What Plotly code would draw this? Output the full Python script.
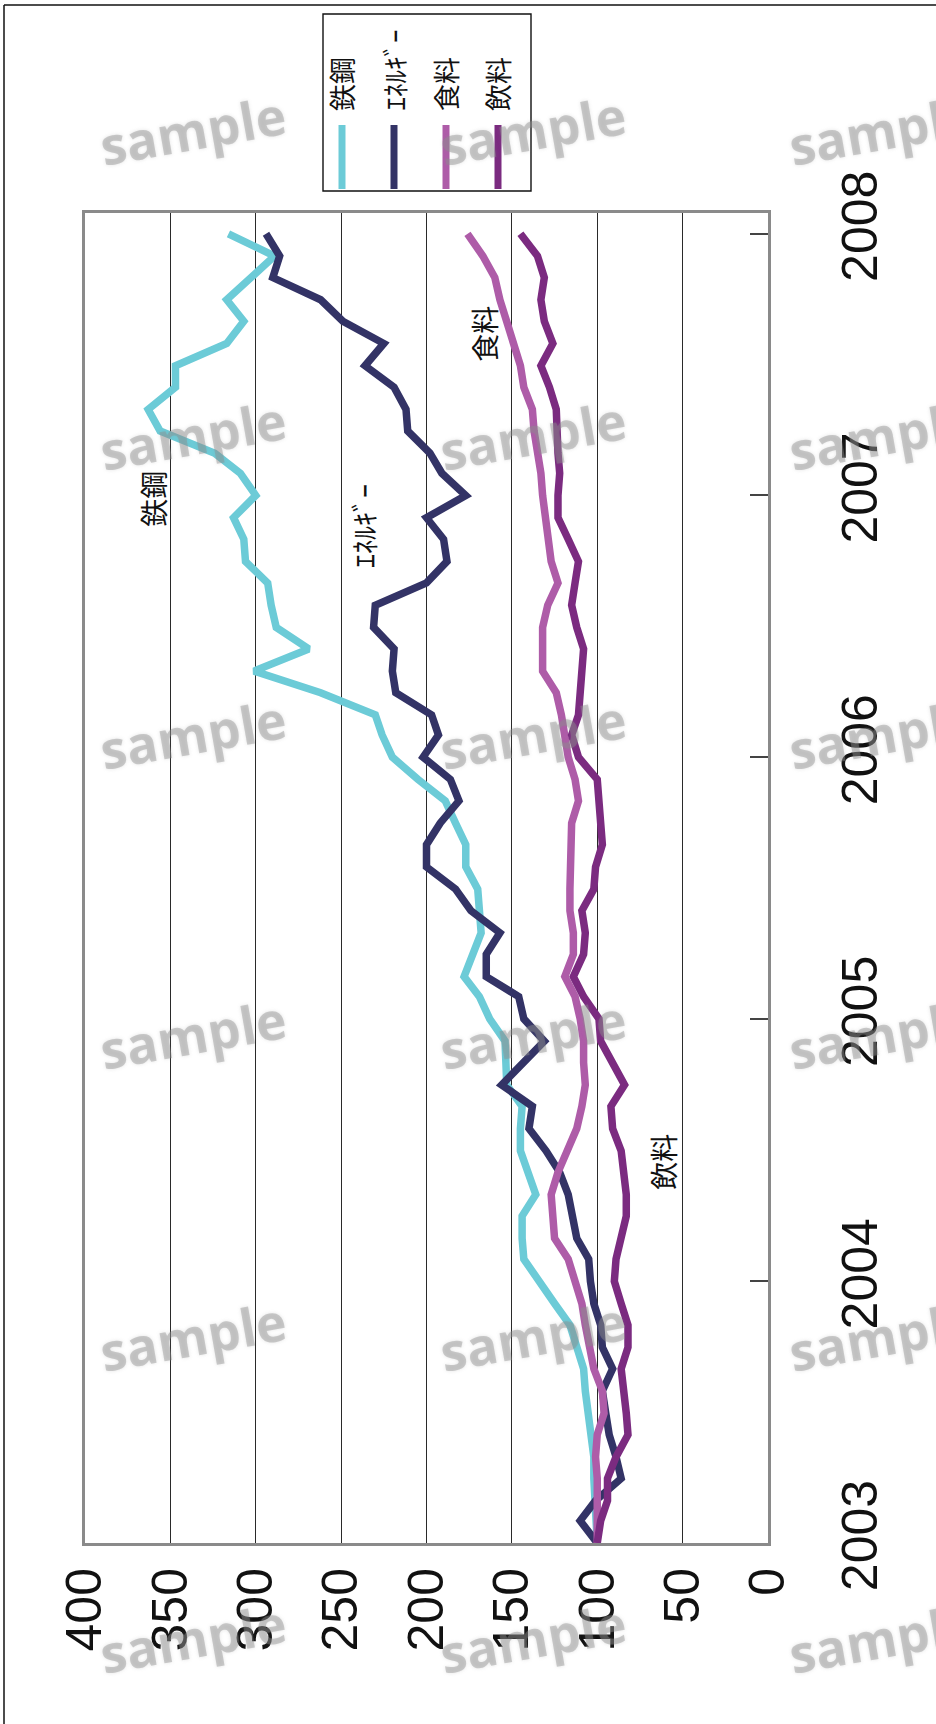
import pandas as pd
import plotly.graph_objects as go

# Monthly index values, January 2003 = 100 (61 months: 2003-01 .. 2008-01)
months = pd.date_range("2003-01-01", periods=61, freq="MS")

steel = [100, 101, 102, 102, 102, 104, 105, 107, 108, 112,
         116, 125, 134, 143, 144, 144, 136, 140, 145, 145,
         144, 153, 153, 154, 163, 169, 178, 173, 168, 169,
         170, 177, 177, 183, 189, 205, 220, 226, 230, 262,
         301, 269, 288, 291, 293, 306, 307, 313, 300, 309,
         324, 356, 363, 347, 347, 317, 307, 317, 303, 289,
         316]
energy = [100, 110, 101, 86, 89, 93, 95, 97, 91, 97,
          98, 102, 104, 105, 112, 114, 117, 122, 130, 140,
          138, 156, 144, 131, 143, 146, 165, 165, 157, 174,
          183, 200, 200, 192, 181, 186, 202, 193, 197, 218,
          220, 219, 231, 230, 200, 188, 190, 200, 177, 191,
          198, 211, 212, 219, 236, 225, 249, 262, 290, 286,
          294]
food = [100, 100, 99, 100, 101, 100, 96, 97, 102, 105,
        107, 109, 113, 117, 125, 126, 127, 123, 118, 112,
        109, 107, 108, 108, 110, 113, 119, 114, 114, 116,
        116, 116, 116, 115, 111, 113, 117, 119, 121, 124,
        132, 132, 132, 129, 123, 127, 129, 131, 132, 133,
        135, 137, 138, 143, 145, 149, 154, 157, 160, 167,
        176]
beverage = [100, 98, 94, 94, 89, 82, 83, 84, 86, 82,
            82, 86, 90, 89, 86, 83, 83, 84, 86, 91,
            92, 84, 91, 98, 99, 108, 114, 108, 107, 109,
            102, 101, 97, 98, 98, 100, 111, 115, 111, 110,
            109, 108, 112, 115, 113, 111, 117, 123, 123, 122,
            123, 123, 124, 128, 133, 126, 131, 133, 131, 135,
            145]

series_names = ["鉄鋼", "ｴﾈﾙｷﾞｰ", "食料", "飲料"]
series_colors = ["#6ccbd7", "#333366", "#ae5ca8", "#7b2b80"]
series_values = [steel, energy, food, beverage]

value_ticks = [0, 50, 100, 150, 200, 250, 300, 350, 400]
year_ticks = ["2003", "2004", "2005", "2006", "2007", "2008"]

# in-plot series labels: (text, value, date)
inline_labels = [("鉄鋼", 360, "2006-12-28"),
                 ("ｴﾈﾙｷﾞｰ", 237, "2006-11-20"),
                 ("食料", 166, "2007-08-14"),
                 ("飲料", 62, "2004-06-16")]

# page geometry (pixels)
W, H = 936, 1724
ML, MR, MT, MB = 85, 168, 213, 181
PW, PH = W - ML - MR, H - MT - MB


def px(x):
    return (x - ML) / PW


def py(y):
    return (H - MB - y) / PH


NUM_FONT = "Liberation Sans Narrow, Arial Narrow, Liberation Sans, Arial, sans-serif"
JP_FONT = "Noto Sans CJK JP, sans-serif"

fig = go.Figure()
for name, color, vals in zip(series_names, series_colors, series_values):
    fig.add_trace(go.Scatter(
        x=vals, y=months, mode="lines", name=name,
        line=dict(color=color, width=7.5),
        showlegend=False, hoverinfo="skip",
    ))

shapes = []
annotations = []

# outer frame (top and left edges)
shapes.append(dict(type="line", xref="paper", yref="paper",
                   x0=px(4), x1=px(W + 10), y0=py(5), y1=py(5),
                   line=dict(color="#111", width=1.5)))
shapes.append(dict(type="line", xref="paper", yref="paper",
                   x0=px(4), x1=px(4), y0=py(5), y1=py(H + 10),
                   line=dict(color="#111", width=1.5)))

# legend box with vertical swatches and rotated labels
shapes.append(dict(type="rect", xref="paper", yref="paper",
                   x0=px(323), x1=px(531), y0=py(14), y1=py(191),
                   line=dict(color="#111", width=1.4), fillcolor="white"))
for k, (name, color) in enumerate(zip(series_names, series_colors)):
    cx = 342 + 52 * k
    shapes.append(dict(type="line", xref="paper", yref="paper",
                       x0=px(cx), x1=px(cx), y0=py(125), y1=py(189),
                       line=dict(color=color, width=7)))
    annotations.append(dict(text=name, xref="paper", yref="paper",
                            x=px(cx), y=py(113), xanchor="center", yanchor="bottom",
                            textangle=-90, showarrow=False,
                            font=dict(family=JP_FONT, size=27, color="#111")))

# series labels inside the plot
for text, v, d in inline_labels:
    annotations.append(dict(text=text, x=v, y=d, xref="x", yref="y",
                            textangle=-90, showarrow=False,
                            xanchor="center", yanchor="middle",
                            font=dict(family=JP_FONT, size=28, color="#111")))

# "sample" watermarks
for cx in (193, 533, 882):
    for cy in (130, 434, 733, 1033, 1335, 1637):
        annotations.append(dict(text="<b>sample</b>", xref="paper", yref="paper",
                                x=px(cx), y=py(cy), xanchor="center", yanchor="middle",
                                textangle=-10, showarrow=False,
                                font=dict(family="Open Sans, DejaVu Sans, sans-serif", size=52,
                                          color="rgba(140,140,140,0.42)",
                                          shadow="0px 0px 4px rgba(140,140,140,0.55)")))

fig.update_layout(
    width=W, height=H, autosize=False,
    margin=dict(l=ML, r=MR, t=MT, b=MB, pad=0),
    paper_bgcolor="white", plot_bgcolor="white",
    shapes=shapes, annotations=annotations,
    xaxis=dict(
        range=[400, 0], autorange=False,
        tickmode="array", tickvals=value_ticks, ticktext=[str(v) for v in value_ticks],
        tickangle=-90, ticks="", ticklabelstandoff=2,
        tickfont=dict(family=NUM_FONT, size=50, color="#111"),
        showgrid=True, gridcolor="#2a2a2a", gridwidth=1.2,
        zeroline=False, showline=True, linecolor="#8a8a8a", linewidth=3, mirror=True,
    ),
    yaxis=dict(
        type="date", range=["2003-01-01", "2008-01-30"], autorange=False,
        side="right",
        tickmode="array", tickvals=[f"{y}-01-01" for y in year_ticks], ticktext=year_ticks,
        tickangle=-90, ticks="inside", ticklen=18, tickwidth=2, tickcolor="#444",
        ticklabelstandoff=46,
        tickfont=dict(family=NUM_FONT, size=50, color="#111"),
        showgrid=False, zeroline=False,
        showline=True, linecolor="#8a8a8a", linewidth=3, mirror=True,
    ),
)

fig.write_html("out.html")
